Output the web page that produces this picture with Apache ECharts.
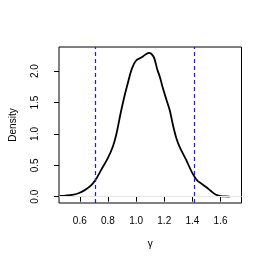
<!DOCTYPE html>
<html><head><meta charset="utf-8">
<script src="https://cdn.jsdelivr.net/npm/echarts@6/dist/echarts.min.js"></script>
<style>html,body{margin:0;padding:0;background:#fff}#c{width:270px;height:263px}</style>
</head><body><div id="c"></div>
<script>
const gammaX = [0.455,0.50,0.545,0.59,0.635,0.68,0.711,0.75,0.80,0.835,0.86,0.89,0.915,0.94,0.97,1.0,1.04,1.07,1.095,1.115,1.13,1.15,1.17,1.19,1.215,1.24,1.26,1.285,1.31,1.355,1.40,1.435,1.47,1.50,1.53,1.565,1.60,1.635,1.665];
const densityY = [0.012,0.018,0.028,0.055,0.105,0.18,0.265,0.42,0.62,0.80,1.0,1.33,1.58,1.80,2.04,2.17,2.22,2.27,2.29,2.26,2.20,2.03,1.90,1.73,1.55,1.37,1.16,0.94,0.79,0.59,0.375,0.255,0.20,0.15,0.095,0.035,0.01,0.004,0.003];
const xTicks = [0.6,0.8,1.0,1.2,1.4,1.6];
const yTicks = [0.0,0.5,1.0,1.5,2.0];
const intervalBounds = [0.711,1.405];

const font = 'Liberation Sans, Arial, sans-serif';
const chart = echarts.init(document.getElementById('c'), null, {renderer:'canvas'});
chart.setOption({
  animation:false,
  grid:{left:55,right:28.5,top:47,bottom:60,show:true,borderColor:'#000',borderWidth:1,backgroundColor:'transparent'},
  xAxis:{type:'value',min:0.452,max:1.749,
    axisLine:{show:false},splitLine:{show:false},
    axisTick:{show:true,length:5,lineStyle:{color:'#000'},customValues:xTicks},
    axisLabel:{color:'#000',fontSize:10,fontFamily:font,margin:13,customValues:xTicks,formatter:v=>v.toFixed(1)},
    name:'γ',nameLocation:'middle',nameGap:36,nameTextStyle:{color:'#000',fontSize:10,fontFamily:font}},
  yAxis:{type:'value',min:-0.1,max:2.385,
    axisLine:{show:false},splitLine:{show:false},
    axisTick:{show:true,length:5,lineStyle:{color:'#000'},customValues:yTicks},
    axisLabel:{color:'#000',fontSize:10,fontFamily:font,rotate:90,margin:19,align:'center',customValues:yTicks,formatter:v=>v.toFixed(1)},
    name:'Density',nameLocation:'middle',nameGap:41,nameRotate:90,nameTextStyle:{color:'#000',fontSize:10,fontFamily:font}},
  series:[{type:'line',data:gammaX.map((x,i)=>[x,densityY[i]]),showSymbol:false,smooth:0.3,
    lineStyle:{color:'#000',width:1.8},
    markLine:{silent:true,symbol:'none',label:{show:false},
      data:[{yAxis:0,lineStyle:{color:'#e8e8dc',width:1,type:'solid'}},
        ...intervalBounds.map(v=>({xAxis:v,lineStyle:{color:'#1a1aff',width:1.2,type:[4,3]}}))]}}]
});
</script></body></html>
